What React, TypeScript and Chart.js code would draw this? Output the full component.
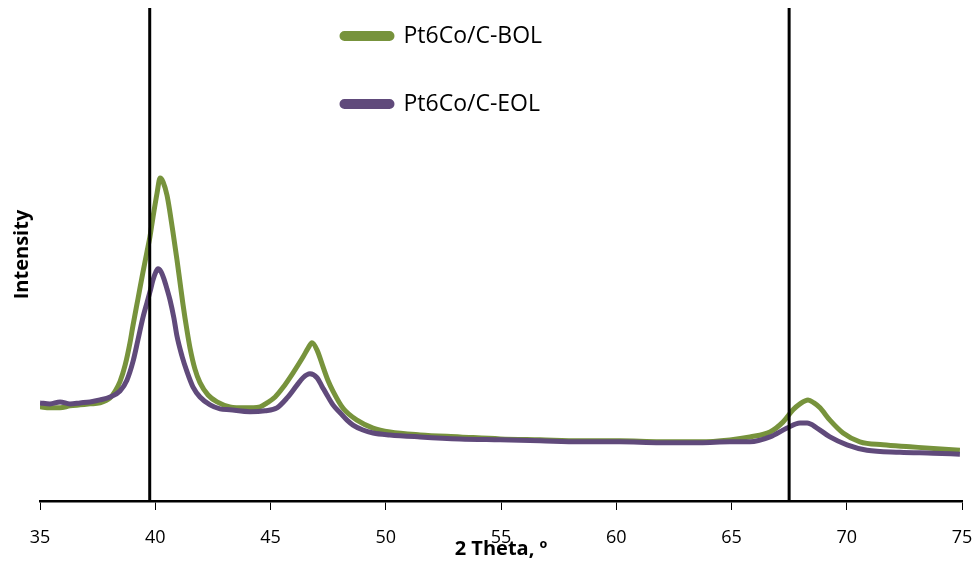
import React, { useEffect, useRef } from "react";
import { Chart, registerables } from "chart.js";

Chart.register(...registerables);

// 2 Theta (degrees) and intensity (a.u., 0-100)
const bolTheta = [35.0, 35.43, 35.87, 36.3, 36.74, 37.17, 37.6, 38.04, 38.25, 38.47, 38.69, 38.9, 39.03, 39.25, 39.47, 39.64, 39.77, 39.9, 40.08, 40.21, 40.34, 40.51, 40.64, 40.77, 40.94, 41.07, 41.2, 41.38, 41.51, 41.72, 41.94, 42.29, 42.68, 43.24, 43.89, 44.54, 44.85, 45.2, 45.54, 45.98, 46.41, 46.63, 46.8, 47.02, 47.28, 47.49, 47.71, 48.15, 48.75, 49.45, 50.18, 51.49, 53.22, 54.96, 56.69, 58.43, 60.16, 61.9, 63.63, 64.93, 65.8, 66.67, 67.23, 67.67, 67.97, 68.32, 68.58, 68.84, 69.27, 69.84, 70.57, 71.57, 72.74, 73.92, 74.91];
const bolIntensity = [19.1, 18.9, 18.9, 19.3, 19.5, 19.7, 19.9, 20.9, 22.2, 24.2, 27.5, 32.0, 35.5, 41.0, 46.5, 50.5, 53.6, 57.5, 62.5, 65.5, 64.7, 62.0, 58.5, 54.5, 49.0, 44.5, 40.0, 34.5, 31.0, 26.8, 24.0, 21.5, 20.1, 19.1, 18.9, 19.1, 19.9, 21.1, 23.0, 26.0, 29.2, 31.0, 32.1, 30.6, 27.2, 24.5, 22.3, 18.8, 16.4, 14.8, 14.0, 13.4, 13.0, 12.6, 12.4, 12.2, 12.2, 12.0, 12.0, 12.4, 13.0, 14.0, 16.0, 18.5, 19.7, 20.5, 19.9, 18.9, 16.4, 13.8, 12.0, 11.4, 11.0, 10.6, 10.3];

const eolTheta = [35.0, 35.43, 35.87, 36.3, 36.74, 37.17, 37.6, 38.04, 38.47, 38.77, 39.03, 39.25, 39.47, 39.64, 39.77, 39.9, 40.03, 40.12, 40.25, 40.38, 40.51, 40.64, 40.81, 40.94, 41.16, 41.38, 41.64, 41.94, 42.38, 42.81, 43.24, 44.11, 44.76, 45.28, 45.72, 46.15, 46.41, 46.71, 47.02, 47.23, 47.45, 47.71, 48.02, 48.32, 48.58, 49.01, 49.45, 50.18, 51.49, 53.22, 54.96, 56.69, 58.43, 60.16, 61.9, 63.63, 64.93, 65.8, 66.67, 67.41, 67.97, 68.28, 68.71, 69.27, 70.01, 70.88, 72.31, 73.74, 74.91];
const eolIntensity = [19.9, 19.7, 20.1, 19.7, 19.9, 20.1, 20.5, 21.1, 22.3, 24.5, 28.2, 32.7, 37.3, 40.2, 42.4, 44.8, 46.5, 47.1, 46.5, 45.0, 43.0, 40.8, 37.1, 33.5, 29.4, 26.2, 23.1, 21.1, 19.5, 18.7, 18.5, 18.1, 18.3, 18.9, 20.9, 23.5, 25.0, 25.8, 25.0, 23.3, 21.5, 19.5, 17.9, 16.4, 15.4, 14.4, 13.8, 13.4, 13.0, 12.6, 12.4, 12.2, 12.0, 12.0, 11.8, 11.8, 12.0, 12.0, 13.0, 14.8, 15.8, 15.8, 14.8, 13.0, 11.4, 10.3, 9.9, 9.7, 9.5];

// reference line positions (2 Theta)
const referenceLines = [39.76, 67.5];
const xTicks = [35, 40, 45, 50, 55, 60, 65, 70, 75];
const seriesLabels = ["Pt6Co/C-BOL", "Pt6Co/C-EOL"];

const GREEN = "#77933C";
const PURPLE = "#604A7B";

export default function App() {
  const ref = useRef<HTMLCanvasElement | null>(null);

  useEffect(() => {
    if (!ref.current) return;
    Chart.defaults.font.family = "'Open Sans', sans-serif";
    Chart.defaults.color = "#000";

    const toPts = (xs: number[], ys: number[]) => xs.map((x, i) => ({ x, y: ys[i] }));

    const refSets = referenceLines.map((v) => ({
      label: "ref",
      data: [
        { x: v, y: 0 },
        { x: v, y: 100 },
      ],
      borderColor: "#000",
      backgroundColor: "#000",
      borderWidth: 3,
      pointRadius: 0,
      order: 0,
      isRef: true,
    }));

    const legendPlacer = {
      id: "legendPlacer",
      afterLayout(chart: any) {
        const lg = chart.legend;
        if (lg) {
          const w = lg.width;
          const h = lg.height;
          lg.left = 297;
          lg.top = -20.5;
          lg.right = lg.left + w;
          lg.bottom = lg.top + h;
        }
      },
    };

    const chart = new Chart(ref.current, {
      type: "line",
      data: {
        datasets: [
          {
            label: seriesLabels[0],
            data: toPts(bolTheta, bolIntensity),
            borderColor: GREEN,
            backgroundColor: GREEN,
            borderWidth: 5,
            pointRadius: 0,
            cubicInterpolationMode: "monotone",
            order: 2,
          },
          {
            label: seriesLabels[1],
            data: toPts(eolTheta, eolIntensity),
            borderColor: PURPLE,
            backgroundColor: PURPLE,
            borderWidth: 5,
            pointRadius: 0,
            cubicInterpolationMode: "monotone",
            order: 1,
          },
          ...refSets,
        ] as any,
      },
      options: {
        animation: false,
        responsive: true,
        maintainAspectRatio: false,
        layout: { padding: { left: 0, right: 15, top: 8, bottom: 4 } },
        plugins: {
          tooltip: { enabled: false },
          legend: {
            position: "chartArea" as any,
            align: "start",
            labels: {
              boxWidth: 50,
              boxHeight: 5,
              padding: 45,
              color: "#000",
              font: { size: 23, family: "'Open Sans', sans-serif" },
              useBorderRadius: true,
              borderRadius: 2.5,
              filter: (item: any, data: any) => !(data.datasets[item.datasetIndex] as any).isRef,
              sort: (a: any, b: any) => a.datasetIndex - b.datasetIndex,
            },
          },
        },
        scales: {
          x: {
            type: "linear",
            min: 35,
            max: 75,
            afterBuildTicks: (scale: any) => {
              scale.ticks = xTicks.map((v) => ({ value: v }));
            },
            afterFit: (scale: any) => {
              scale.height = 60;
              scale.paddingLeft = 0;
              scale.paddingRight = 0;
            },
            ticks: {
              padding: 17,
              color: "#000",
              font: { size: 18 },
            },
            grid: {
              drawOnChartArea: false,
              drawTicks: true,
              tickLength: 9,
              color: "#000",
              lineWidth: 1,
            },
            border: { display: true, color: "#000", width: 2.5 },
            title: {
              display: true,
              text: "2 Theta, º",
              color: "#000",
              font: { size: 20, weight: "bold" },
              padding: { top: 0, bottom: 0 },
            },
          },
          y: {
            type: "linear",
            min: 0,
            max: 100,
            afterFit: (scale: any) => {
              scale.width = 40;
            },
            ticks: { display: false },
            grid: { display: false },
            border: { display: false },
            title: {
              display: true,
              text: "Intensity",
              color: "#000",
              font: { size: 20, weight: "bold" },
              padding: { top: 10, bottom: 0 },
            },
          },
        },
      },
      plugins: [legendPlacer],
    });

    return () => chart.destroy();
  }, []);

  return (
    <div style={{ position: "fixed", left: 0, top: 0, width: 977, height: 565, background: "#fff" }}>
      <canvas ref={ref} />
    </div>
  );
}
